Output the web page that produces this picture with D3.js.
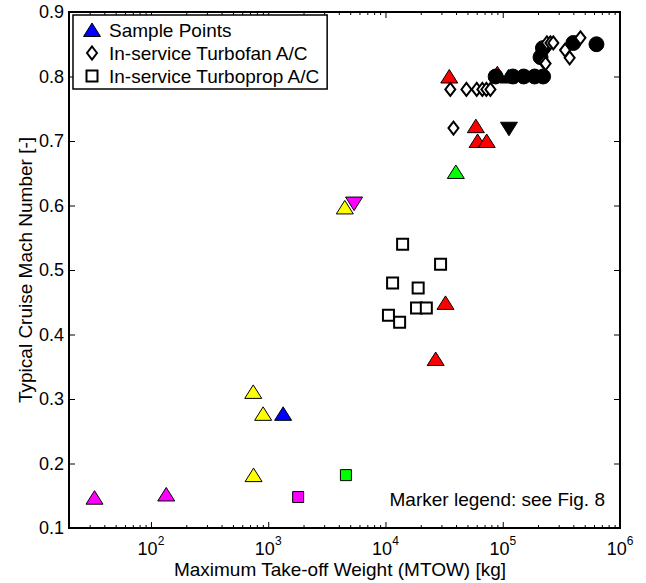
<!DOCTYPE html>
<html><head><meta charset="utf-8">
<script src="https://cdn.jsdelivr.net/npm/d3@7"></script>
<style>body{margin:0;background:#fff} text{font-family:"Liberation Sans",Arial,sans-serif;fill:#000}</style>
</head><body><svg id="c" width="646" height="583"></svg>
<script>
// ---- data ----
const xDomain = [20, 1e6];
const yDomain = [0.1, 0.9];
const yTickValues = [0.1, 0.2, 0.3, 0.4, 0.5, 0.6, 0.7, 0.8, 0.9];
const yTickLabels = ["0.1", "0.2", "0.3", "0.4", "0.5", "0.6", "0.7", "0.8", "0.9"];
const xMajorExponents = [2, 3, 4, 5, 6];

// sample points (coloured markers)
const sampleMTOW  = [33, 135, 745, 905, 1340, 750, 1800, 4600, 4500, 5400, 26800, 32500, 39800, 59000, 61000, 73000, 113000, 35000, 90000, 112000,
                     87000, 122000, 151000, 187000, 221000, 210000, 220000, 400000, 630000];
const sampleMach  = [0.147, 0.152, 0.311, 0.277, 0.277, 0.182, 0.148, 0.182, 0.597, 0.603, 0.362, 0.449, 0.652, 0.723, 0.70, 0.70, 0.719, 0.80, 0.805, 0.80,
                     0.80, 0.80, 0.80, 0.80, 0.80, 0.830, 0.844, 0.852, 0.850];
const sampleShape = ["up","up","up","up","up","up","square","square","up","down","up","up","up","up","up","up","down","up","up","up",
                     "circle","circle","circle","circle","circle","circle","circle","circle","circle"];
const sampleColor = ["#ff00ff","#ff00ff","#ffff00","#ffff00","#0000ff","#ffff00","#ff00ff","#00ff00","#ffff00","#ff00ff","#ff0000","#ff0000","#00ff00","#ff0000","#ff0000","#ff0000","#000000","#ff0000","#ff0000","#000000",
                     "#000000","#000000","#000000","#000000","#000000","#000000","#000000","#000000","#000000"];

// in-service turbofan aircraft (diamonds)
const turbofanMTOW = [38000, 35700, 49000, 60000, 67000, 72500, 78500, 238000, 255000, 270000, 225000, 232000, 340000, 372000, 460000];
const turbofanMach = [0.72, 0.78, 0.78, 0.78, 0.78, 0.78, 0.78, 0.852, 0.852, 0.852, 0.822, 0.82, 0.841, 0.829, 0.86];

// in-service turboprop aircraft (squares)
const turbopropMTOW = [14000, 29500, 11500, 19000, 18400, 22300, 10600, 13200];
const turbopropMach = [0.540, 0.509, 0.480, 0.472, 0.441, 0.441, 0.430, 0.419];

const legendLabels = ["Sample Points", "In-service Turbofan A/C", "In-service Turboprop A/C"];
const noteText = "Marker legend: see Fig. 8";
const xTitle = "Maximum Take-off Weight (MTOW) [kg]";
const yTitle = "Typical Cruise Mach Number [-]";

// ---- layout ----
const L = 69, R = 620, T = 12, B = 528;
const svg = d3.select("#c");
const x = d3.scaleLog().domain(xDomain).range([L, R]);
const y = d3.scaleLinear().domain(yDomain).range([B, T]);

function shapePath(s) {
  if (s === "up") return "M-8.5,6.5L8.5,6.5L0,-7Z";
  if (s === "down") return "M-8.5,-6.5L8.5,-6.5L0,7Z";
  if (s === "square") return "M-5.5,-5.5H5.5V5.5H-5.5Z";
  if (s === "diamond") return "M0,-6.5L5,0L0,6.5L-5,0Z";
  return d3.symbol(d3.symbolCircle, 175)();
}

const minorX = [];
for (let e = 1; e <= 5; e++) for (let k = 2; k <= 9; k++) { const v = k * Math.pow(10, e); if (v >= xDomain[0] && v <= xDomain[1]) minorX.push(v); }
const majorX = xMajorExponents.map(e => Math.pow(10, e));

svg.append("g").attr("transform", `translate(0,${B})`)
  .call(d3.axisBottom(x).tickValues(majorX).tickSize(-6).tickFormat(""));
svg.append("g").attr("transform", `translate(0,${B})`)
  .call(d3.axisBottom(x).tickValues(minorX).tickSize(-3).tickFormat(""));
svg.append("g").attr("transform", `translate(0,${T})`)
  .call(d3.axisTop(x).tickValues(majorX).tickSize(-6).tickFormat(""));
svg.append("g").attr("transform", `translate(0,${T})`)
  .call(d3.axisTop(x).tickValues(minorX).tickSize(-3).tickFormat(""));
const axL = svg.append("g").attr("transform", `translate(${L},0)`)
  .call(d3.axisLeft(y).tickValues(yTickValues).tickSize(-6).tickFormat((d, i) => yTickLabels[i]).tickPadding(5));
svg.append("g").attr("transform", `translate(${R},0)`)
  .call(d3.axisRight(y).tickValues(yTickValues).tickSize(-6).tickFormat(""));
svg.selectAll(".domain").remove();
svg.selectAll(".tick line").attr("stroke", "#000").attr("stroke-width", 1);
axL.selectAll("text").attr("font-size", 18).attr("font-family", "Liberation Sans, Arial, sans-serif").attr("fill", "#000");

// x tick labels 10^n
const xl = svg.append("g");
majorX.forEach((v, i) => {
  const t = xl.append("text").attr("x", x(v)).attr("y", 555).attr("text-anchor", "middle").attr("font-size", 18);
  t.append("tspan").text("10");
  t.append("tspan").attr("dy", -10).attr("font-size", 12).text(String(xMajorExponents[i]));
});

// markers
const mk = svg.append("g");
sampleMTOW.forEach((v, i) => {
  mk.append("path").attr("d", shapePath(sampleShape[i]))
    .attr("transform", `translate(${x(v)},${y(sampleMach[i])})`)
    .attr("fill", sampleColor[i]).attr("stroke", "#000").attr("stroke-width", 1);
});
turbofanMTOW.forEach((v, i) => {
  mk.append("path").attr("d", shapePath("diamond"))
    .attr("transform", `translate(${x(v)},${y(turbofanMach[i])})`)
    .attr("fill", "#fff").attr("stroke", "#000").attr("stroke-width", 2);
});
turbopropMTOW.forEach((v, i) => {
  mk.append("path").attr("d", shapePath("square"))
    .attr("transform", `translate(${x(v)},${y(turbopropMach[i])})`)
    .attr("fill", "#fff").attr("stroke", "#000").attr("stroke-width", 2);
});

// frame
svg.append("rect").attr("x", L).attr("y", T).attr("width", R - L).attr("height", B - T)
  .attr("fill", "none").attr("stroke", "#000").attr("stroke-width", 2);

// legend
const lg = svg.append("g");
const box = lg.append("rect").attr("x", 73).attr("y", 15).attr("height", 74)
  .attr("fill", "#fff").attr("stroke", "#000").attr("stroke-width", 1.5);
const legShapes = ["up", "diamond", "square"];
const legFill = ["#0000ff", "#fff", "#fff"];
let maxW = 0;
legendLabels.forEach((lab, i) => {
  const cy = 30 + i * 23;
  lg.append("path").attr("d", shapePath(legShapes[i])).attr("transform", `translate(92,${cy})`)
    .attr("fill", legFill[i]).attr("stroke", "#000").attr("stroke-width", i === 0 ? 1 : 2);
  const t = lg.append("text").attr("x", 109).attr("y", cy + 6.5).attr("font-size", 19).text(lab);
  maxW = Math.max(maxW, t.node().getComputedTextLength());
});
box.attr("width", 109 + maxW + 8 - 73);

// note
svg.append("text").attr("x", 605).attr("y", 506).attr("text-anchor", "end").attr("font-size", 19).text(noteText);

// titles
svg.append("text").attr("x", 340).attr("y", 576).attr("text-anchor", "middle").attr("font-size", 19).text(xTitle);
svg.append("text").attr("transform", `translate(32,${(T + B) / 2}) rotate(-90)`).attr("text-anchor", "middle").attr("font-size", 19).text(yTitle);
</script></body></html>
